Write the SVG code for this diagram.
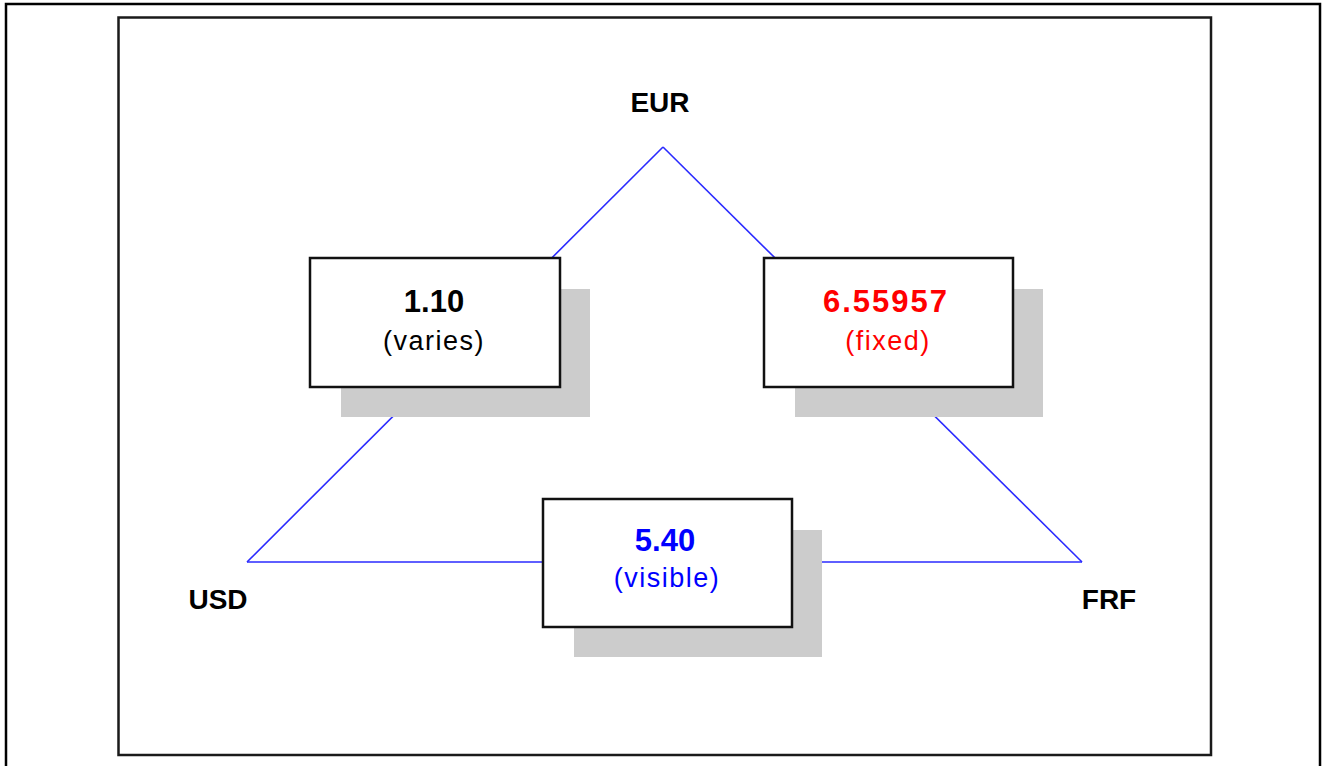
<svg xmlns="http://www.w3.org/2000/svg" width="1328" height="766" viewBox="0 0 1328 766">
<style>
.frame{fill:#fff;stroke:#000;stroke-width:2.5}
.inner{fill:#fff;stroke:#1a1a1a;stroke-width:2.5}
.shadow{fill:#cccccc;stroke:none}
.box{fill:#fff;stroke:#111;stroke-width:2.5}
.edge{stroke:#2a2aff;stroke-width:1.6;fill:none}
.lbl{font-family:"Liberation Sans",Arial,sans-serif;font-weight:bold;font-size:28px;fill:#000;text-anchor:middle}
.val{font-family:"Liberation Sans",Arial,sans-serif;font-weight:bold;font-size:31px;text-anchor:middle}
.sub{font-family:"Liberation Sans",Arial,sans-serif;font-size:27px;text-anchor:middle;letter-spacing:1.5px}
</style>
<rect class="frame" x="6" y="4" width="1314" height="770"/>
<rect class="inner" x="118.5" y="17.5" width="1092.5" height="737.5"/>
<g id="connectors">
<line class="edge" x1="663" y1="147" x2="247" y2="562"/>
<line class="edge" x1="663" y1="147" x2="1082" y2="562"/>
<line class="edge" x1="247" y1="562" x2="1082" y2="562"/>
</g>
<g id="EUR"><text class="lbl" x="660" y="112">EUR</text></g>
<g id="USD"><text class="lbl" x="218" y="609">USD</text></g>
<g id="FRF"><text class="lbl" x="1109" y="609">FRF</text></g>
<g id="rate-usd-eur">
<rect class="shadow" x="341" y="289" width="249" height="128"/>
<rect class="box" x="310" y="258" width="250" height="129"/>
<text class="val" x="434" y="312" fill="#000">1.10</text>
<text class="sub" x="434" y="350" fill="#000">(varies)</text>
</g>
<g id="rate-eur-frf">
<rect class="shadow" x="795" y="289" width="248" height="128"/>
<rect class="box" x="764" y="258" width="249" height="129"/>
<text class="val" x="886" y="312" fill="#ff0000" letter-spacing="2">6.55957</text>
<text class="sub" x="888" y="350" fill="#ff0000">(fixed)</text>
</g>
<g id="rate-usd-frf">
<rect class="shadow" x="574" y="530" width="248" height="127"/>
<rect class="box" x="543" y="499" width="249" height="128"/>
<text class="val" x="665" y="551" fill="#0000ff">5.40</text>
<text class="sub" x="667" y="587" fill="#0000ff">(visible)</text>
</g>
</svg>
